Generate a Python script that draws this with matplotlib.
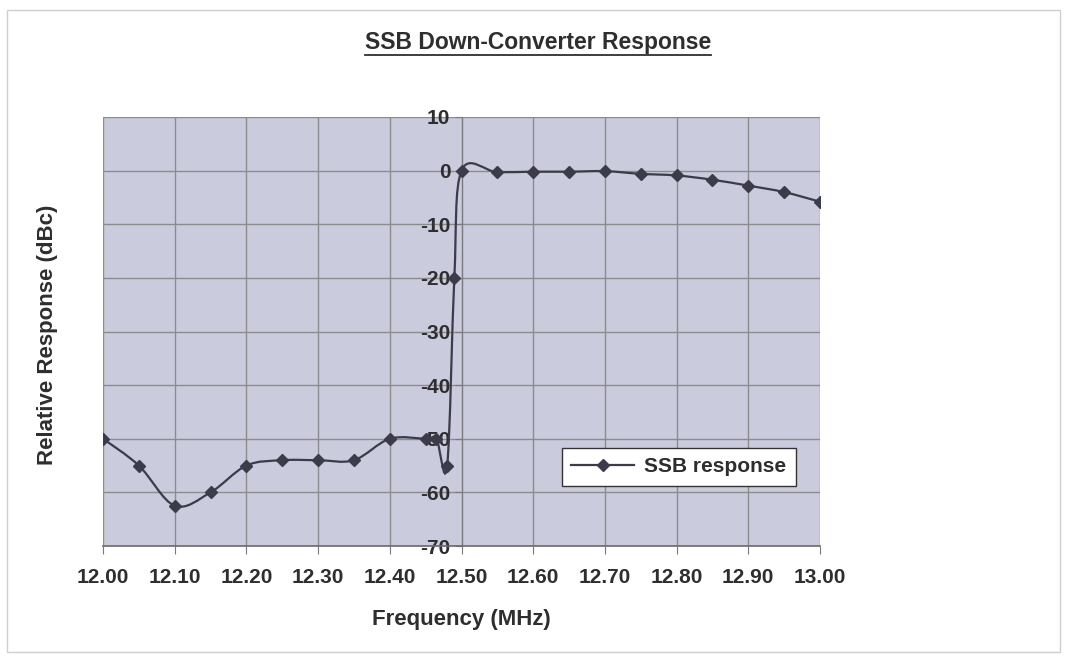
import matplotlib.pyplot as plt
import numpy as np
from matplotlib.patches import Rectangle
from matplotlib.path import Path
from matplotlib.patches import PathPatch
from matplotlib.lines import Line2D

plt.rcParams["font.family"] = ["Liberation Sans", "DejaVu Sans"]
plt.rcParams["font.weight"] = "bold"
plt.rcParams["axes.unicode_minus"] = False

# values
freq = [12.00, 12.05, 12.10, 12.15, 12.20, 12.25, 12.30, 12.35, 12.40, 12.45,
        12.465, 12.48, 12.49, 12.50, 12.55, 12.60, 12.65, 12.70, 12.75, 12.80,
        12.85, 12.90, 12.95, 13.00]
resp = [-50, -55, -62.5, -60, -55, -54, -54, -54, -50, -50,
        -50, -55, -20, 0, -0.3, -0.2, -0.2, -0.1, -0.6, -0.9,
        -1.7, -2.8, -4.0, -5.8]
x_ticks = [12.0, 12.1, 12.2, 12.3, 12.4, 12.5, 12.6, 12.7, 12.8, 12.9, 13.0]
y_ticks = [10, 0, -10, -20, -30, -40, -50, -60, -70]

LINE = "#3b3b4a"
TEXT = "#2e2e2e"


def smooth_path(xs, ys):
    # spreadsheet-style smoothed line: cubic Bezier segments through the points
    p = np.column_stack([xs, ys]).astype(float)
    n = len(p)
    verts = [p[0]]
    codes = [Path.MOVETO]
    for i in range(n - 1):
        p0 = p[i - 1] if i > 0 else p[i]
        p3 = p[i + 2] if i + 2 < n else p[i + 1]
        c1 = p[i] + (p[i + 1] - p0) / 6.0
        c2 = p[i + 1] - (p3 - p[i]) / 6.0
        verts += [c1, c2, p[i + 1]]
        codes += [Path.CURVE4] * 3
    return Path(verts, codes)


fig = plt.figure(figsize=(10.68, 6.58), dpi=100)
fig.patches.append(Rectangle((7 / 1068, 6 / 658), 1053 / 1068, 642 / 658,
                             transform=fig.transFigure, fill=False,
                             edgecolor="#cfcfcf", linewidth=1))

ax = fig.add_axes([103 / 1068, 1 - 546 / 658, 717 / 1068, 429 / 658])
ax.set_facecolor("#cbcbde")
ax.set_xlim(12.0, 13.0)
ax.set_ylim(-70, 10)

ax.add_patch(PathPatch(smooth_path(freq, resp), fill=False, edgecolor=LINE,
                       linewidth=1.6, zorder=3))
ax.plot(freq, resp, linestyle="none", marker="D", markersize=6,
        color=LINE, zorder=4)

ax.set_xticks(x_ticks)
ax.set_xticklabels([f"{v:.2f}" for v in x_ticks])
ax.set_yticks(y_ticks)
ax.set_yticklabels([str(v) for v in y_ticks])

ax.grid(True, color="#8c8c8c", linewidth=1)
ax.set_axisbelow(True)

for s in ["top", "right"]:
    ax.spines[s].set_visible(False)
ax.spines["left"].set_position(("data", 12.5))
ax.spines["left"].set_color("#7a7a7a")
ax.spines["bottom"].set_color("#6a6a6a")
ax.spines["bottom"].set_linewidth(1.2)

ax.tick_params(axis="x", length=6, color="#7a7a7a", pad=10,
               labelsize=15, labelcolor=TEXT)
ax.tick_params(axis="y", length=5, color="#7a7a7a", pad=3,
               labelsize=15, labelcolor=TEXT)

leg_handle = Line2D([], [], color=LINE, marker="D", markersize=6, linewidth=1.6)
fig.legend([leg_handle], ["SSB response"], loc="center",
           bbox_to_anchor=(679 / 1068, 1 - 467 / 658),
           bbox_transform=fig.transFigure, fancybox=False, frameon=True,
           edgecolor="#333333", framealpha=1, handlelength=3.0,
           handletextpad=0.5, borderpad=0.45,
           prop={"size": 15, "weight": "bold"},
           labelcolor=TEXT).get_frame().set_linewidth(1.0)

title = fig.text(538 / 1068, 1 - 42 / 658, "SSB Down-Converter Response",
                 ha="center", va="center", fontsize=16.5, fontweight="bold",
                 color=TEXT)
fig.text(48 / 1068, 1 - 335 / 658, "Relative Response (dBc)", rotation=90,
         ha="center", va="center", fontsize=16, fontweight="bold", color=TEXT)
fig.text(461 / 1068, 1 - 620 / 658, "Frequency (MHz)", ha="center",
         va="center", fontsize=16, fontweight="bold", color=TEXT)

# underline the title
fig.canvas.draw()
bb = title.get_window_extent().transformed(fig.transFigure.inverted())
fig.add_artist(Line2D([bb.x0, bb.x1], [bb.y0 - 0.002, bb.y0 - 0.002],
                      transform=fig.transFigure, color=TEXT, linewidth=1.3))

fig.savefig("out.png", dpi=100)
